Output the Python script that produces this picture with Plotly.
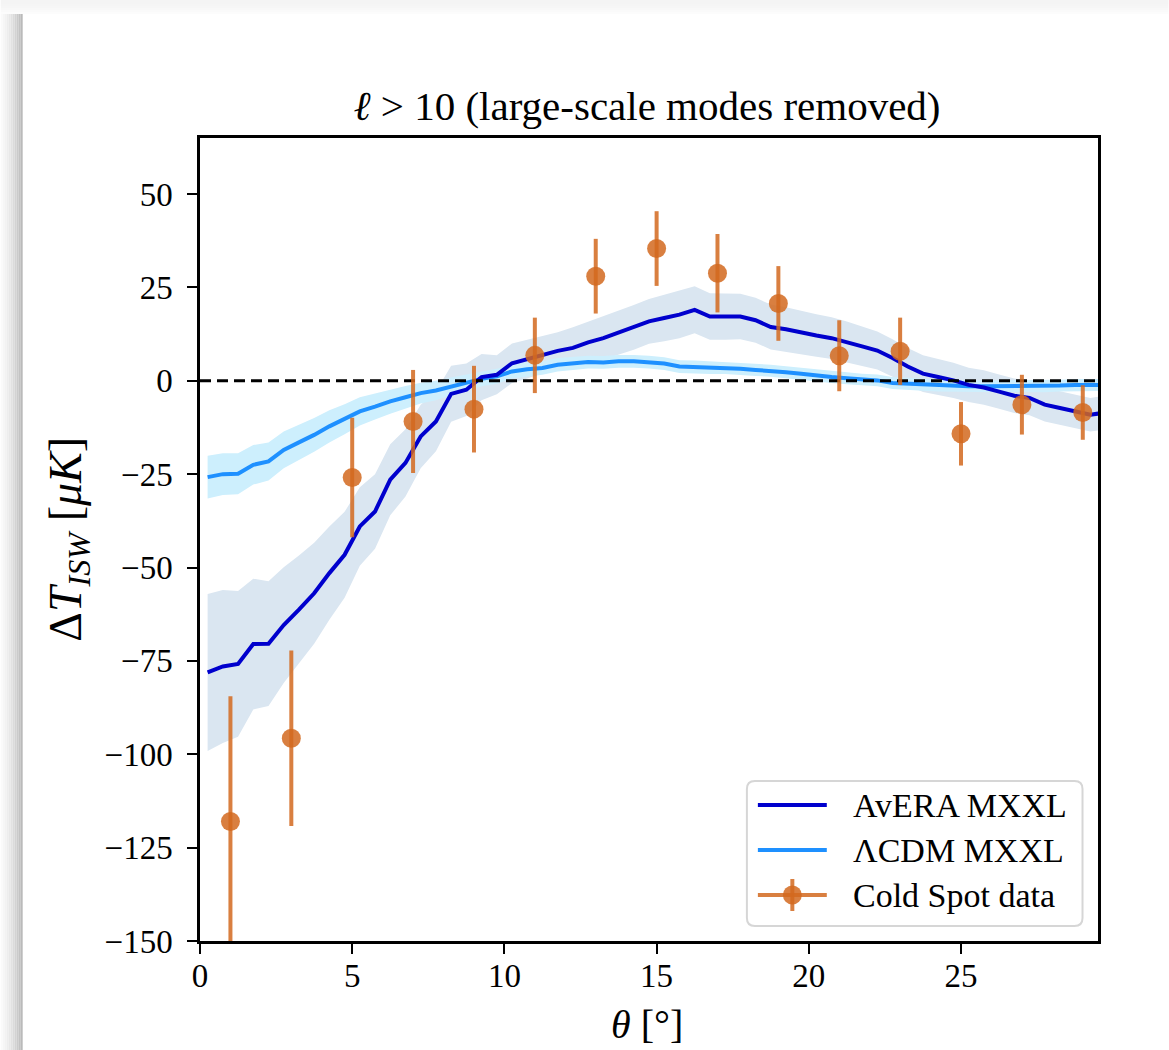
import plotly.graph_objects as go

# ---------------------------------------------------------------- data
theta_model = [
    0.25, 0.75, 1.25, 1.75, 2.25, 2.75, 3.25, 3.75, 4.25, 4.75,
    5.25, 5.75, 6.25, 6.75, 7.25, 7.75, 8.25, 8.75, 9.25, 9.75,
    10.25, 10.75, 11.25, 11.75, 12.25, 12.75, 13.25, 13.75, 14.25, 14.75,
    15.25, 15.75, 16.25, 16.75, 17.25, 17.75, 18.25, 18.75, 19.25, 19.75,
    20.25, 20.75, 21.25, 21.75, 22.25, 22.75, 23.25, 23.75, 24.25, 24.75,
    25.25, 25.75, 26.25, 26.75, 27.25, 27.75, 28.25, 28.75, 29.25, 29.75,
]

avera_mean = [
    -78.1, -76.5, -75.8, -70.5, -70.4, -65.4, -61.3, -56.9, -51.5, -46.6,
    -39.0, -35.0, -26.5, -22.0, -14.9, -10.9, -3.5, -2.4, 1.0, 1.6,
    4.7, 5.8, 7.0, 8.0, 8.8, 10.3, 11.4, 12.9, 14.3, 15.9,
    16.8, 17.7, 19.0, 17.2, 17.2, 17.2, 16.2, 14.4, 13.8, 12.9,
    12.1, 11.4, 10.4, 9.2, 8.1, 6.1, 3.8, 1.9, 1.0, 0.1,
    -1.1, -1.8, -2.9, -4.0, -4.6, -6.4, -7.3, -8.2, -9.1, -8.5,
]
avera_err = [
    21.0, 20.5, 19.5, 17.5, 16.7, 15.5, 14.5, 13.5, 12.5, 11.5,
    10.5, 10.0, 9.5, 9.0, 8.5, 8.0, 7.5, 7.0, 6.2, 5.2,
    5.3, 5.2, 5.0, 5.0, 5.5, 5.5, 5.7, 5.8, 6.0, 6.0,
    6.2, 6.3, 6.3, 6.2, 6.2, 6.1, 6.0, 6.0, 5.9, 5.8,
    5.7, 5.6, 5.5, 5.3, 5.1, 5.0, 5.0, 4.9, 4.8, 4.7,
    4.6, 4.6, 4.6, 4.6, 4.6, 4.5, 4.5, 4.5, 4.5, 4.5,
]

lcdm_mean = [
    -25.8, -25.0, -24.9, -22.5, -21.6, -18.5, -16.5, -14.5, -12.2, -10.3,
    -8.2, -6.9, -5.5, -4.4, -3.3, -2.6, -1.5, -0.4, 0.5, 1.2,
    2.5, 3.1, 3.4, 4.3, 4.7, 5.0, 4.9, 5.2, 5.2, 5.0,
    4.6, 3.8, 3.7, 3.5, 3.4, 3.2, 2.9, 2.7, 2.3, 1.9,
    1.4, 1.0, 0.7, 0.3, 0.1, -0.6, -0.8, -1.1, -1.3, -1.4,
    -1.5, -1.5, -1.5, -1.4, -1.4, -1.5, -1.3, -1.1, -1.1, -1.1,
]
lcdm_err = [
    5.7, 5.6, 5.5, 5.3, 5.1, 4.9, 4.7, 4.5, 4.3, 4.0,
    3.8, 3.5, 3.3, 3.0, 2.8, 2.6, 2.4, 2.2, 2.0, 2.0,
    1.9, 1.9, 1.8, 1.8, 1.8, 1.7, 1.7, 1.7, 1.7, 1.7,
    1.7, 1.7, 1.7, 1.7, 1.6, 1.6, 1.6, 1.6, 1.6, 1.6,
    1.6, 1.6, 1.6, 1.6, 1.6, 1.6, 1.6, 1.6, 1.6, 1.6,
    1.6, 1.6, 1.6, 1.6, 1.6, 1.6, 1.6, 1.6, 1.6, 1.6,
]

theta_obs = [1, 3, 5, 7, 9, 11, 13, 15, 17, 19, 21, 23, 25, 27, 29]
dT_obs = [-118.0, -95.7, -25.9, -10.9, -7.6, 6.8, 28.0, 35.4, 28.8, 20.7,
          6.7, 7.9, -14.2, -6.4, -8.5]
dT_obs_err = [33.5, 23.5, 16.0, 13.8, 11.6, 10.1, 10.0, 10.0, 10.5, 10.0,
              9.5, 9.0, 8.5, 8.0, 7.3]

x_range = [0, 29.5]
y_range = [-150, 65]
x_ticks = [0, 5, 10, 15, 20, 25]
y_ticks = [50, 25, 0, -25, -50, -75, -100, -125, -150]

legend_labels = ["AvERA MXXL", "ΛCDM MXXL", "Cold Spot data"]

# ---------------------------------------------------------------- style
W, H = 1169, 1050
L, R, T, B = 199.5, 1098.5, 138, 941
FONT = "Liberation Serif"
C_AVERA = "#0000CD"
C_LCDM = "#1E90FF"
C_AVERA_BAND = "rgba(218,230,241,1)"
C_LCDM_BAND = "rgba(205,239,253,1)"
C_OBS = "rgba(210,105,30,0.85)"


def px(xp):
    return (xp - L) / (R - L)


def py(yp):
    return (B - yp) / (B - T)


fig = go.Figure()

# confidence bands
for mean, err, col in [(avera_mean, avera_err, C_AVERA_BAND),
                       (lcdm_mean, lcdm_err, C_LCDM_BAND)]:
    upper = [m + e for m, e in zip(mean, err)]
    lower = [m - e for m, e in zip(mean, err)]
    fig.add_trace(go.Scatter(x=theta_model + theta_model[::-1],
                             y=upper + lower[::-1], fill="toself",
                             fillcolor=col, line=dict(width=0),
                             mode="lines", showlegend=False, hoverinfo="skip"))

# model curves
fig.add_trace(go.Scatter(x=theta_model, y=lcdm_mean, mode="lines",
                         line=dict(color=C_LCDM, width=4), showlegend=False))
fig.add_trace(go.Scatter(x=theta_model, y=avera_mean, mode="lines",
                         line=dict(color=C_AVERA, width=4), showlegend=False))

# zero reference
fig.add_trace(go.Scatter(x=x_range, y=[0, 0], mode="lines",
                         line=dict(color="black", width=3, dash="11px,6px"),
                         showlegend=False, hoverinfo="skip"))

# observed profile
fig.add_trace(go.Scatter(x=theta_obs, y=dT_obs, mode="markers",
                         marker=dict(color=C_OBS, size=19, line=dict(width=0)),
                         error_y=dict(type="data", array=dT_obs_err, color=C_OBS,
                                      thickness=4, width=0),
                         showlegend=False, cliponaxis=True))

shapes = []

# page shadow along the left and top edges
left_cols = [250, 246, 242, 237, 232, 226, 219, 211, 203, 195, 186]
for i, g in enumerate(left_cols):
    shapes.append(dict(type="rect", xref="paper", yref="paper",
                       x0=px(2 * i), x1=px(2 * i + 2), y0=py(H), y1=py(14),
                       line=dict(width=0), fillcolor=f"rgb({g},{g},{g})", layer="above"))
top_cols = [244, 244, 245, 246, 248, 250, 252]
for i, g in enumerate(top_cols):
    shapes.append(dict(type="rect", xref="paper", yref="paper",
                       x0=px(0), x1=px(W), y0=py(2 * i + 2), y1=py(2 * i),
                       line=dict(width=0), fillcolor=f"rgb({g},{g},{g})", layer="above"))

# legend frame with rounded corners
lx0, lx1, ly0, ly1 = px(747), px(1083), py(926), py(781)
rx, ry = 8 / (R - L), 8 / (B - T)
path = (f"M {lx0+rx},{ly0} L {lx1-rx},{ly0} Q {lx1},{ly0} {lx1},{ly0+ry} "
        f"L {lx1},{ly1-ry} Q {lx1},{ly1} {lx1-rx},{ly1} L {lx0+rx},{ly1} "
        f"Q {lx0},{ly1} {lx0},{ly1-ry} L {lx0},{ly0+ry} Q {lx0},{ly0} {lx0+rx},{ly0} Z")
shapes.append(dict(type="path", xref="paper", yref="paper", path=path,
                   fillcolor="white", line=dict(color="#d6d6d6", width=2), layer="above"))

entry_y = [805, 850, 895]
entry_cols = [C_AVERA, C_LCDM, C_OBS]
for yy, col in zip(entry_y, entry_cols):
    shapes.append(dict(type="line", xref="paper", yref="paper",
                       x0=px(758), x1=px(827), y0=py(yy), y1=py(yy),
                       line=dict(color=col, width=4), layer="above"))
# marker + error bar glyph for the data entry
shapes.append(dict(type="line", xref="paper", yref="paper",
                   x0=px(792.5), x1=px(792.5), y0=py(879), y1=py(911),
                   line=dict(color=C_OBS, width=4), layer="above"))
shapes.append(dict(type="circle", xref="paper", yref="paper",
                   x0=px(783), x1=px(802), y0=py(904.5), y1=py(885.5),
                   fillcolor=C_OBS, line=dict(width=0), layer="above"))

annotations = []
for yy, lab in zip(entry_y, legend_labels):
    annotations.append(dict(text=lab, xref="paper", yref="paper", x=px(851),
                            y=py(yy), xanchor="left", yanchor="middle",
                            showarrow=False, font=dict(size=34, family=FONT, color="black")))

# axis titles
annotations.append(dict(text="<i>θ</i> [°]", xref="paper", yref="paper",
                        x=px(647), y=py(1024), xanchor="center", yanchor="middle",
                        showarrow=False, font=dict(size=40, family=FONT, color="black")))
annotations.append(dict(text="Δ<i>T</i><sub><i>ISW</i></sub> [<i>μK</i>]",
                        xref="paper", yref="paper", x=px(68), y=py(539),
                        xanchor="center", yanchor="middle", textangle=-90,
                        showarrow=False, font=dict(size=46, family=FONT, color="black")))

fig.update_layout(
    width=W, height=H,
    margin=dict(l=L, r=W - R, t=T, b=H - B),
    paper_bgcolor="white", plot_bgcolor="white",
    font=dict(family=FONT, size=32, color="black"),
    title=dict(text="<i>ℓ</i> > 10 (large-scale modes removed)",
               x=px(647), xref="paper", xanchor="center",
               y=1 - 106 / H, yref="container", yanchor="middle",
               font=dict(size=41, family=FONT, color="black")),
    shapes=shapes,
    annotations=annotations,
    showlegend=False,
)

axis_common = dict(showgrid=False, zeroline=False, showline=True, linecolor="black",
                   linewidth=2.5, mirror=True, ticks="outside", ticklen=10,
                   tickwidth=2, tickcolor="black",
                   tickfont=dict(size=33, family=FONT, color="black"))
fig.update_xaxes(range=x_range, tickvals=x_ticks, ticklabelstandoff=-6, **axis_common)
fig.update_yaxes(range=y_range, tickvals=y_ticks, ticklabelstandoff=8, **axis_common)

fig.write_html("out.html")
